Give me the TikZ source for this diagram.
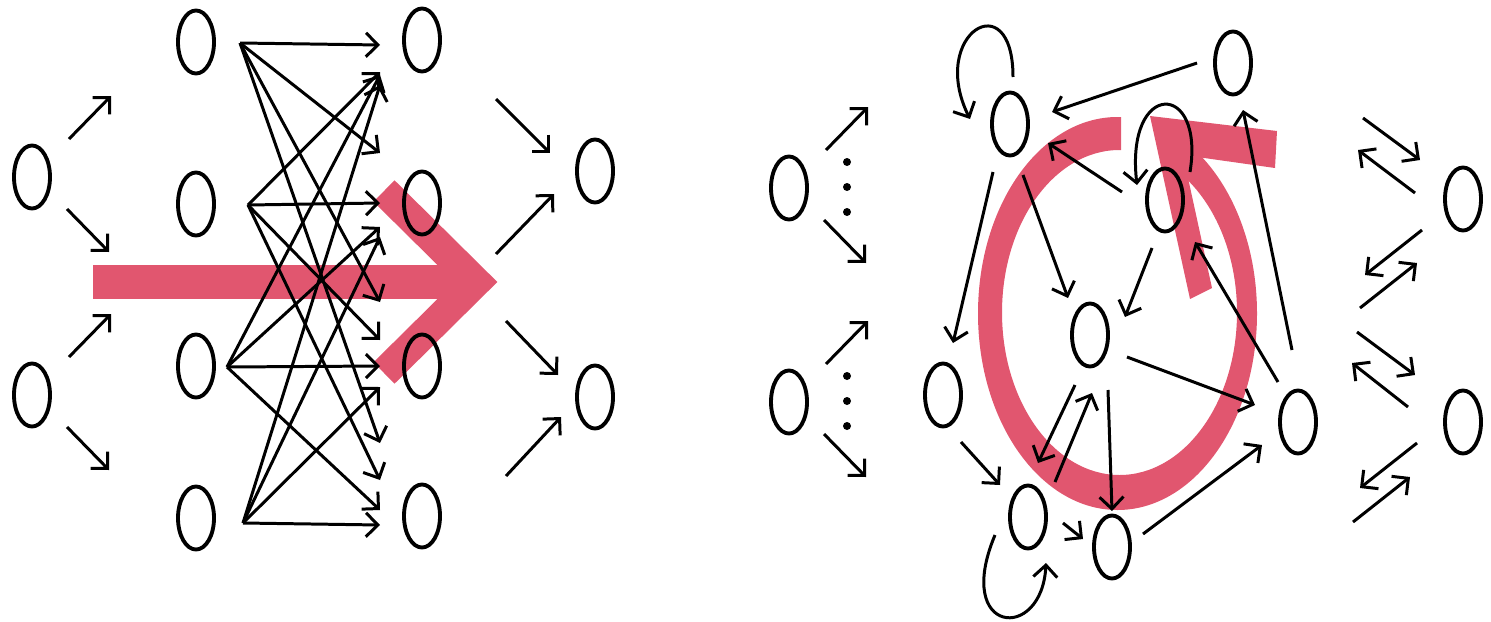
\documentclass[tikz,border=0pt]{standalone}
\usepackage{tikz}
\usetikzlibrary{arrows.meta,calc,backgrounds,shapes.geometric}
\definecolor{flow}{RGB}{225,86,111}

\begin{document}
\begin{tikzpicture}[
 x=0.01cm,y=-0.01cm,
 neuron/.style={draw,ellipse,line width=1.1pt,minimum width=0.36cm,minimum height=0.63cm,inner sep=0pt},
 link/.style={-{Straight Barb[length=3.4pt,width=6.8pt]},line width=0.85pt},
 band/.style={flow,line width=0.34cm}
]
\useasboundingbox (0,0) rectangle (1491,621);
\node[neuron] (a1) at (32,177) {};
\node[neuron] (a2) at (32,395) {};
\foreach \i/\y in {1/42,2/204,3/366,4/518} \node[neuron] (b\i) at (196,\y) {};
\foreach \i/\y in {1/40,2/203,3/366,4/516} \node[neuron] (c\i) at (422,\y) {};
\node[neuron] (d1) at (595,171) {};
\node[neuron] (d2) at (595,397) {};
\node[neuron] (e1) at (789,188) {};
\node[neuron] (e2) at (789,402) {};
\node[neuron] (n1) at (1010,124) {};
\node[neuron] (n2) at (1233,63) {};
\node[neuron] (n3) at (1165,200) {};
\node[neuron] (n4) at (1090,335) {};
\node[neuron] (n5) at (943,395) {};
\node[neuron] (n6) at (1298,422) {};
\node[neuron] (n7) at (1028,517) {};
\node[neuron] (n8) at (1112,547) {};
\node[neuron] (r1) at (1463,199) {};
\node[neuron] (r2) at (1463,422) {};
\coordinate (t1) at ($(b1)+(44,1)$);
\coordinate (t2) at ($(b2)+(52,1)$);
\coordinate (t3) at ($(b3)+(31,1)$);
\coordinate (t4) at ($(b4)+(47,5)$);
\foreach \n in {a1,a2,e1,e2} {
 \draw[link] ($(\n)+(37,-38)$) -- ($(\n)+(79,-81)$);
 \draw[link] ($(\n)+(35,32)$) -- ($(\n)+(77,75)$);
}
\foreach \n in {e1,e2} \foreach \dy in {-26,-1,24} \fill ($(\n)+(58,\dy)$) circle (4);
\foreach \s/\t/\dy in {1/1/5,1/2/-50,1/3/-64,1/4/-73,2/1/32,2/2/0,2/3/-26,2/4/-36,3/1/35,3/2/24,3/3/0,3/4/-6,4/1/45,4/2/34,4/3/21,4/4/9}
 \draw[link] (t\s) -- ($(c\t)+(-42,\dy)$);
\draw[link] ($(d1)+(-99,-72)$) -- ($(d1)+(-45,-18)$);
\draw[link] ($(d1)+(-99,83)$) -- ($(d1)+(-41,23)$);
\draw[link] ($(d2)+(-89,-76)$) -- ($(d2)+(-37,-22)$);
\draw[link] ($(d2)+(-89,79)$) -- ($(d2)+(-34,20)$);
\draw[link] ($(n1)+(3,-47)$) .. controls +(0,-95) and +(-42,-85) .. ($(n1)+(-40,-5)$);
\draw[link] ($(n3)+(25,-28)$) .. controls +(15,-92) and +(-12,-105) .. ($(n3)+(-28,-15)$);
\draw[link] ($(n7)+(-33,18)$) .. controls +(-42,100) and +(-4,80) .. ($(n7)+(18,46)$);
\draw[link] ($(n2)+(-36,0)$) -- ($(n1)+(42,-12)$);
\draw[link] ($(n3)+(-43,-8)$) -- ($(n1)+(38,19)$);
\draw[link] ($(n1)+(-17,48)$) -- ($(n5)+(10,-52)$);
\draw[link] ($(n1)+(13,51)$) -- ($(n4)+(-22,-37)$);
\draw[link] ($(n3)+(-13,48)$) -- ($(n4)+(35,-18)$);
\draw[link] ($(n6)+(-20,-40)$) -- ($(n3)+(30,42)$);
\draw[link] ($(n6)+(-6,-72)$) -- ($(n2)+(10,47)$);
\draw[link] ($(n4)+(37,22)$) -- ($(n6)+(-43,-17)$);
\draw[link] ($(n4)+(-15,50)$) -- ($(n7)+(10,-54)$);
\draw[link] ($(n7)+(27,-35)$) -- ($(n4)+(2,58)$);
\draw[link] ($(n4)+(18,55)$) -- ($(n8)+(0,-36)$);
\draw[link] ($(n5)+(18,47)$) -- ($(n7)+(-28,-32)$);
\draw[link] ($(n7)+(35,6)$) -- ($(n8)+(-29,-8)$);
\draw[link] ($(n8)+(31,-13)$) -- ($(n6)+(-36,23)$);
\draw[link] ($(r1)+(-100,-81)$) -- ($(r1)+(-43,-39)$);
\draw[link] ($(r1)+(-48,-6)$) -- ($(r1)+(-105,-49)$);
\draw[link] ($(r1)+(-41,31)$) -- ($(r1)+(-98,76)$);
\draw[link] ($(r1)+(-103,109)$) -- ($(r1)+(-46,64)$);
\draw[link] ($(r2)+(-106,-90)$) -- ($(r2)+(-48,-47)$);
\draw[link] ($(r2)+(-55,-15)$) -- ($(r2)+(-111,-59)$);
\draw[link] ($(r2)+(-46,21)$) -- ($(r2)+(-103,66)$);
\draw[link] ($(r2)+(-110,100)$) -- ($(r2)+(-53,55)$);
\begin{scope}[on background layer]
\draw[band] (93,282) -- (470,282);
\draw[band,line width=0.3cm,line join=miter] (384,191) -- (476,282) -- (384,373);
\begin{scope}[even odd rule]
\clip (900,0) rectangle (1300,621) (1121,100) rectangle (1168,165);
\fill[flow] (1117.5,313.5) ellipse [x radius=139.5,y radius=196.5] (1119.5,312.5) ellipse [x radius=117.5,y radius=162.5];
\end{scope}
\fill[flow] (1150,116) -- (1277,131) -- (1275,168) -- (1183,155) -- (1212,288) -- (1190,299) -- cycle;
\end{scope}
\end{tikzpicture}
\end{document}
